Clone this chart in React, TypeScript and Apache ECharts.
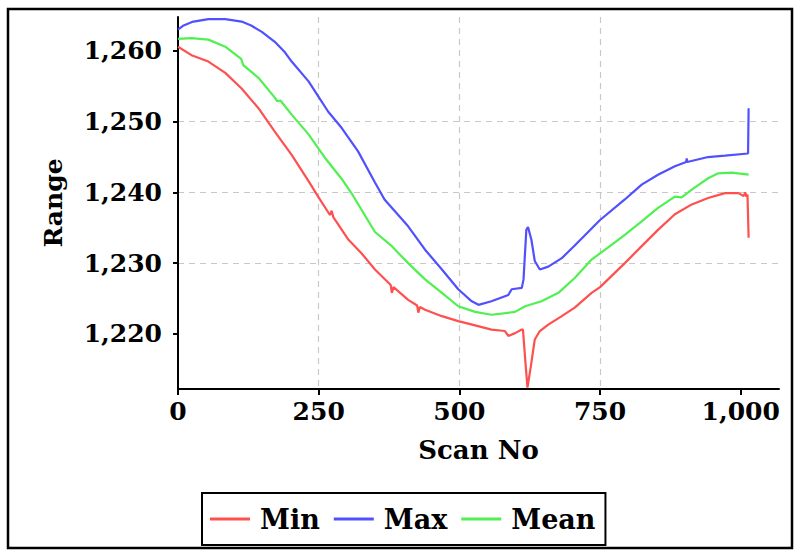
import React, { useEffect, useRef } from "react";
import * as echarts from "echarts";

const minScans = [0, 24, 54, 84, 113, 143, 172, 202, 232, 249, 270, 273, 276, 303, 326, 350, 378, 380, 383, 409, 425, 427, 430, 439, 469, 498, 528, 557, 581, 587, 599, 611, 613, 617, 621, 627, 634, 643, 658, 682, 705, 735, 750, 794, 824, 853, 883, 913, 942, 972, 996, 1005, 1008, 1010, 1012, 1014];
const minValues = [1260.6, 1259.4, 1258.5, 1256.9, 1254.7, 1251.9, 1248.6, 1245.3, 1241.6, 1239.4, 1236.8, 1237.4, 1236.5, 1233.3, 1231.4, 1229.1, 1226.9, 1225.8, 1226.6, 1224.8, 1224.0, 1223.0, 1223.8, 1223.4, 1222.5, 1221.8, 1221.2, 1220.6, 1220.4, 1219.7, 1220.1, 1220.6, 1220.6, 1216.4, 1212.4, 1215.4, 1219.2, 1220.4, 1221.3, 1222.5, 1223.7, 1225.8, 1226.6, 1230.0, 1232.4, 1234.7, 1236.9, 1238.3, 1239.2, 1239.9, 1239.9, 1239.5, 1240.0, 1239.4, 1239.7, 1233.6];

const maxScans = [0, 10, 25, 54, 84, 113, 130, 149, 172, 190, 202, 232, 249, 267, 291, 320, 350, 367, 409, 439, 469, 498, 522, 534, 557, 587, 593, 611, 614, 619, 622, 628, 634, 643, 658, 682, 705, 750, 794, 824, 853, 883, 903, 904, 905, 942, 972, 1013, 1014];
const maxValues = [1263.0, 1263.6, 1264.1, 1264.5, 1264.5, 1264.15, 1263.6, 1262.7, 1261.3, 1259.8, 1258.5, 1255.7, 1253.6, 1251.4, 1249.1, 1245.8, 1241.4, 1239.0, 1235.2, 1231.9, 1229.1, 1226.3, 1224.6, 1224.1, 1224.6, 1225.5, 1226.3, 1226.5, 1227.7, 1234.7, 1235.1, 1233.3, 1230.3, 1229.1, 1229.5, 1230.7, 1232.5, 1236.1, 1239.0, 1241.1, 1242.5, 1243.7, 1244.3, 1244.8, 1244.3, 1245.0, 1245.2, 1245.5, 1251.9];

const meanScans = [0, 24, 54, 84, 107, 112, 116, 143, 172, 176, 182, 202, 232, 261, 291, 309, 350, 380, 409, 439, 469, 498, 528, 557, 599, 617, 646, 676, 705, 735, 771, 794, 824, 853, 883, 895, 913, 942, 960, 984, 1014];
const meanValues = [1261.7, 1261.8, 1261.6, 1260.6, 1259.2, 1258.9, 1258.0, 1256.2, 1253.4, 1252.9, 1253.0, 1251.0, 1248.2, 1244.9, 1241.9, 1239.8, 1234.4, 1232.4, 1230.0, 1227.7, 1225.8, 1223.9, 1223.1, 1222.7, 1223.1, 1223.9, 1224.6, 1225.8, 1227.9, 1230.5, 1232.6, 1234.0, 1235.9, 1237.8, 1239.4, 1239.3, 1240.4, 1242.0, 1242.7, 1242.8, 1242.5];

const xTicks = [0, 250, 500, 750, 1000];
const yTicks = [1220, 1230, 1240, 1250, 1260];
const seriesNames = ["Min", "Max", "Mean"];
const seriesColors = ["#ff5050", "#5050ff", "#50f050"];

const FONT = "DejaVu Serif";

function pairs(xs: number[], ys: number[]) {
  return xs.map((x, i) => [x, ys[i]]);
}

export default function App() {
  const ref = useRef<HTMLDivElement>(null);
  useEffect(() => {
    if (!ref.current) return;
    const chart = echarts.init(ref.current, undefined, { renderer: "svg" });
    const fmt = (v: number) => v.toLocaleString("en-US");
    const datasets = [pairs(minScans, minValues), pairs(maxScans, maxValues), pairs(meanScans, meanValues)];
    chart.setOption({
      animation: false,
      backgroundColor: "#ffffff",
      grid: { left: 178, top: 17, right: 21, bottom: 162, containLabel: false, outerBoundsMode: "none" },
      graphic: [
        {
          type: "rect",
          shape: { x: 8, y: 9, width: 784, height: 539 },
          style: { fill: "none", stroke: "#000", lineWidth: 2.5 },
          z: 100,
        },
      ],
      legend: {
        data: seriesNames,
        left: 202,
        top: 493,
        orient: "horizontal",
        icon: "rect",
        itemWidth: 40,
        itemHeight: 3,
        itemGap: 14,
        padding: [10, 10, 10, 8],
        borderColor: "#000",
        borderWidth: 2,
        textStyle: { fontFamily: FONT, fontWeight: "bold", fontSize: 27, color: "#000", lineHeight: 32, padding: [0, 0, 0, 5] },
      },
      xAxis: {
        type: "value",
        min: 0,
        max: 1068,
        name: "Scan No",
        nameLocation: "middle",
        nameGap: 48,
        nameTextStyle: { fontFamily: FONT, fontWeight: "bold", fontSize: 26, color: "#000" },
        axisLine: { show: true, onZero: false, lineStyle: { color: "#000", width: 2 } },
        axisTick: { show: true, length: 6, customValues: xTicks, lineStyle: { color: "#000", width: 2 } },
        axisLabel: { customValues: xTicks, formatter: fmt, margin: 10, fontFamily: FONT, fontWeight: "bold", fontSize: 25, color: "#000" },
        splitLine: { show: true, showMinLine: false, showMaxLine: false, lineStyle: { color: "#c8c8c8", type: [6, 5], width: 1.2 } },
      },
      yAxis: {
        type: "value",
        min: 1212.2,
        max: 1264.8,
        name: "Range",
        nameLocation: "middle",
        nameGap: 112,
        nameTextStyle: { fontFamily: FONT, fontWeight: "bold", fontSize: 25, color: "#000" },
        axisLine: { show: true, lineStyle: { color: "#000", width: 2 } },
        axisTick: { show: true, length: 5, customValues: yTicks, lineStyle: { color: "#000", width: 2 } },
        axisLabel: { customValues: yTicks, formatter: fmt, margin: 16, fontFamily: FONT, fontWeight: "bold", fontSize: 25, color: "#000" },
        splitLine: { show: true, showMinLine: false, showMaxLine: false, lineStyle: { color: "#c8c8c8", type: [6, 5], width: 1.2 } },
      },
      series: seriesNames.map((name, i) => ({
        name,
        type: "line",
        data: datasets[i],
        showSymbol: false,
        symbol: "none",
        color: seriesColors[i],
        lineStyle: { color: seriesColors[i], width: 2.2 },
      })),
    });
    return () => chart.dispose();
  }, []);
  return <div ref={ref} style={{ position: "fixed", left: 0, top: 0, width: 800, height: 551 }} />;
}
